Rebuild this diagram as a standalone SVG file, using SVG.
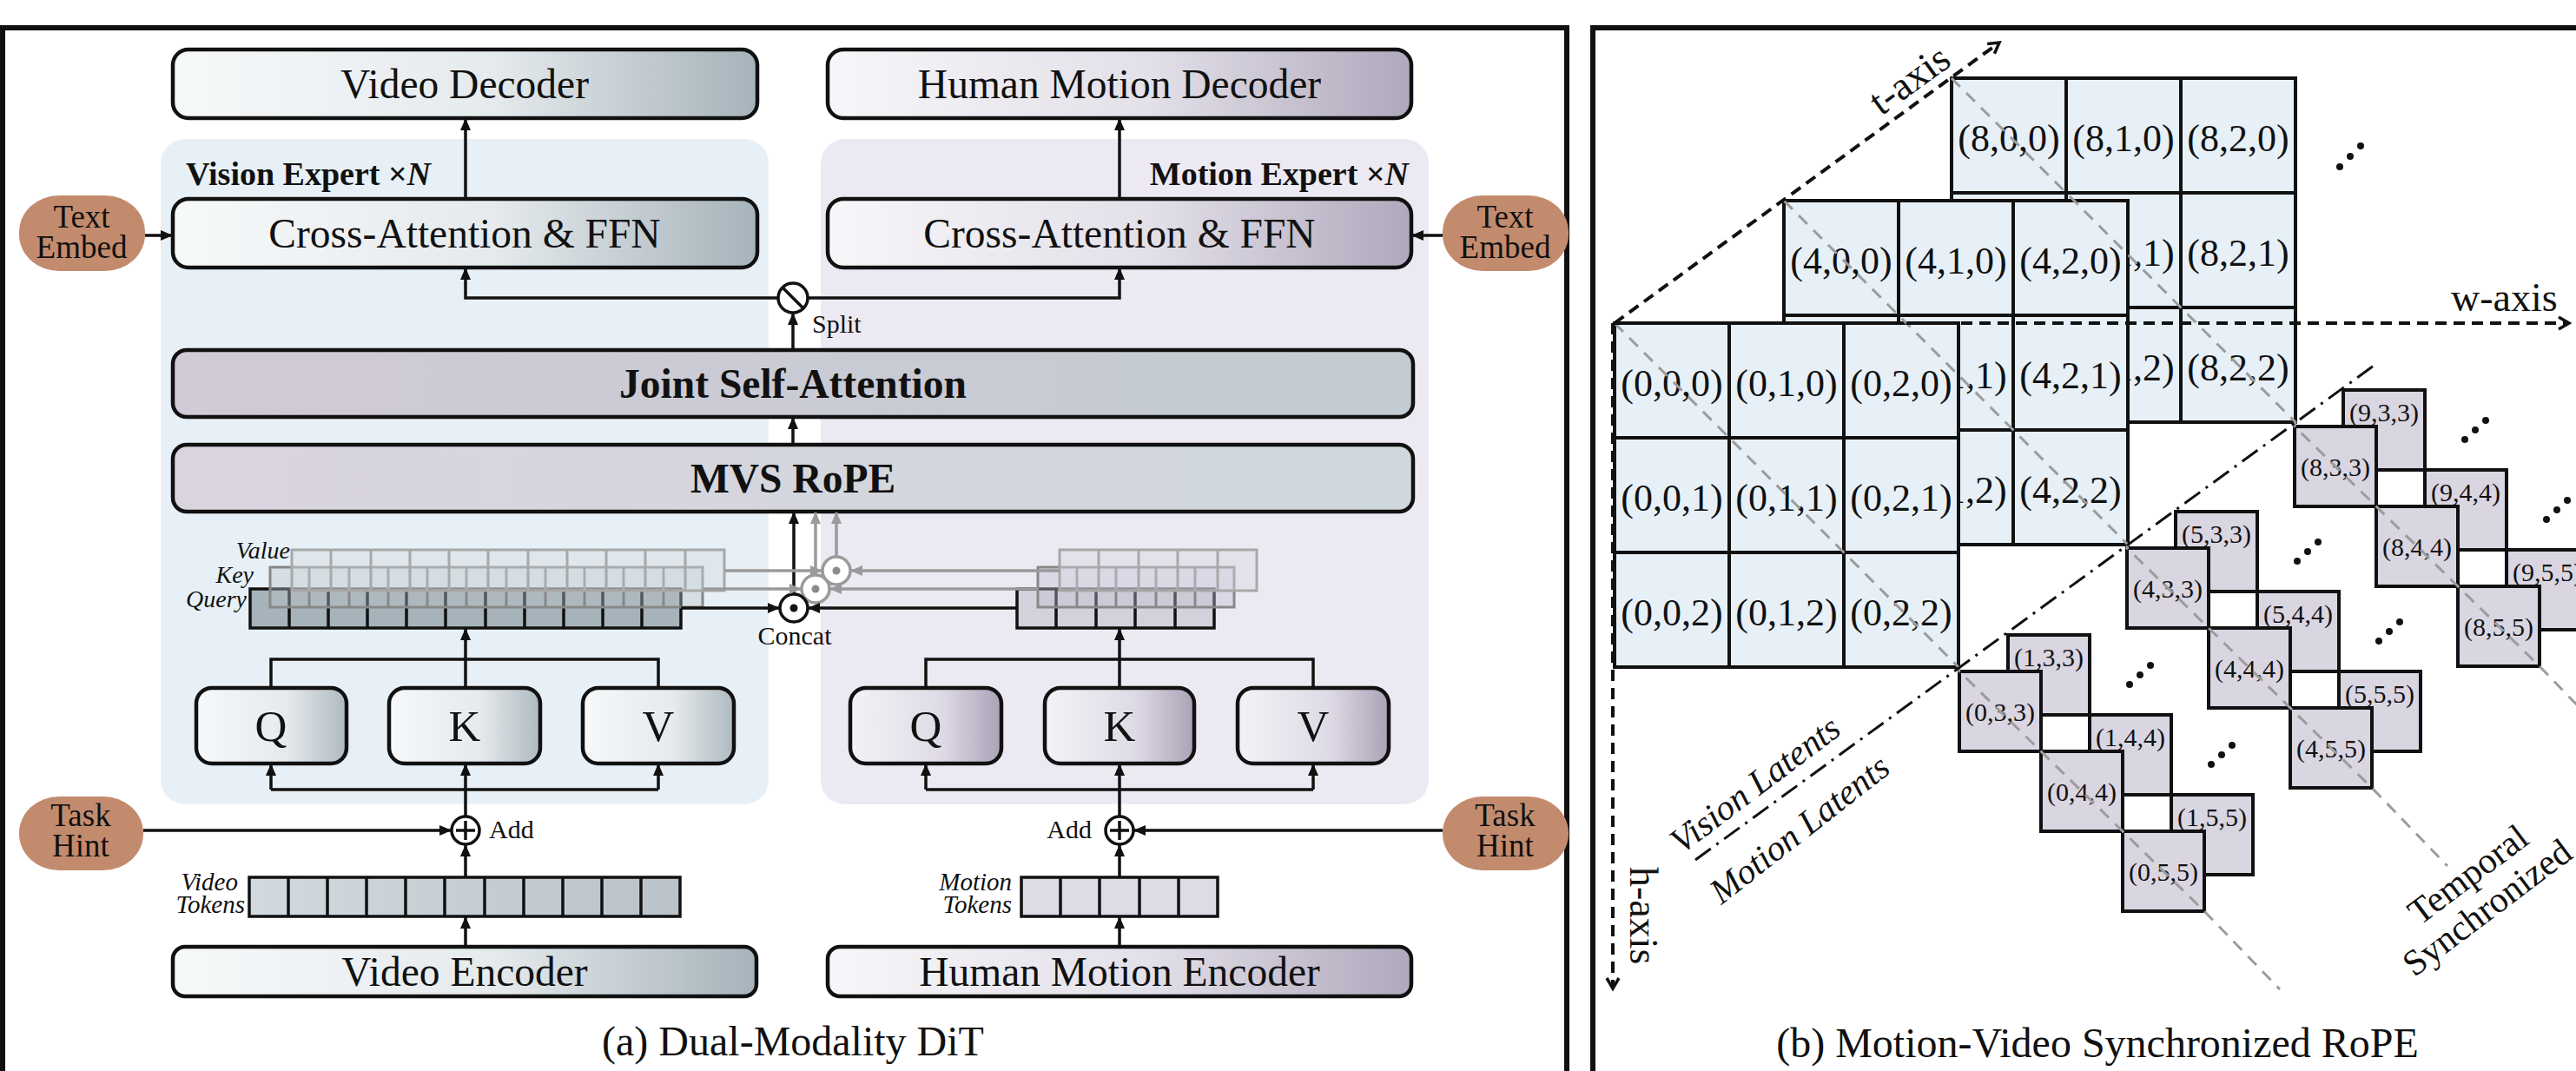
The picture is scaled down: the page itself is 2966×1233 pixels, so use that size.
<svg xmlns="http://www.w3.org/2000/svg" width="2966" height="1233" viewBox="0 0 2966 1233">
<defs>
  <linearGradient id="gV" x1="0" y1="0" x2="1" y2="0">
    <stop offset="0" stop-color="#f7f9fa"/><stop offset="0.55" stop-color="#e5eaed"/><stop offset="1" stop-color="#a6b3ba"/>
  </linearGradient>
  <linearGradient id="gM" x1="0" y1="0" x2="1" y2="0">
    <stop offset="0" stop-color="#f7f6f9"/><stop offset="0.55" stop-color="#e3e0e9"/><stop offset="1" stop-color="#b0a8bc"/>
  </linearGradient>
  <linearGradient id="gVq" x1="0" y1="0" x2="1" y2="0">
    <stop offset="0" stop-color="#f6f8fa"/><stop offset="0.6" stop-color="#e6eaed"/><stop offset="1" stop-color="#aebac0"/>
  </linearGradient>
  <linearGradient id="gMq" x1="0" y1="0" x2="1" y2="0">
    <stop offset="0" stop-color="#f4f2f7"/><stop offset="0.6" stop-color="#dfdbe6"/><stop offset="1" stop-color="#aaa2b6"/>
  </linearGradient>
  <linearGradient id="gJ" x1="0" y1="0" x2="1" y2="0">
    <stop offset="0" stop-color="#d1cad7"/><stop offset="1" stop-color="#c3ccd2"/>
  </linearGradient>
  <linearGradient id="gR" x1="0" y1="0" x2="1" y2="0">
    <stop offset="0" stop-color="#dad4df"/><stop offset="1" stop-color="#cfd8dc"/>
  </linearGradient>
  <linearGradient id="gTok" x1="0" y1="0" x2="1" y2="0">
    <stop offset="0" stop-color="#d3dadf"/><stop offset="1" stop-color="#b9c3c9"/>
  </linearGradient>
  <marker id="ah" markerUnits="userSpaceOnUse" markerWidth="14" markerHeight="12" refX="13" refY="6" orient="auto">
    <path d="M0,0 L14,6 L0,12 z" fill="#111"/>
  </marker>
  <marker id="ahg" markerUnits="userSpaceOnUse" markerWidth="14" markerHeight="12" refX="13" refY="6" orient="auto">
    <path d="M0,0 L14,6 L0,12 z" fill="#9a9a9a"/>
  </marker>
  <marker id="chev" markerUnits="userSpaceOnUse" markerWidth="20" markerHeight="20" refX="15" refY="10" orient="auto">
    <path d="M3,3 L15,10 L3,17" fill="none" stroke="#111" stroke-width="3.5"/>
  </marker>
</defs>
<style>
  text{font-family:"Liberation Serif","Times New Roman",serif;fill:#111}
  .frame{fill:#fff;stroke:#111;stroke-width:6}
  .box{stroke:#111;stroke-width:4.5}
  .lbl{font-size:47.5px;text-anchor:middle}
  .b{font-weight:bold}
  .it{font-style:italic}
  .pill{fill:#c38b6e}
  .pt{font-size:37px;text-anchor:middle}
  .ln{fill:none;stroke:#111;stroke-width:3.5}
  .lg{fill:none;stroke:#9a9a9a;stroke-width:3.5}
  .op{fill:#fff;stroke:#111;stroke-width:3.5}
  .opg{fill:#fff;stroke:#9a9a9a;stroke-width:3.5}
  .sm{font-size:30px}
  .tq{stroke:#111;stroke-width:3.5}
  .tk{fill:#b9c2c8;fill-opacity:0.4;stroke:#888;stroke-width:3}
  .tv{fill:#d5dbdf;fill-opacity:0.45;stroke:#a8a8a8;stroke-width:3}
  .mk{fill:#c4bfcf;fill-opacity:0.4;stroke:#888;stroke-width:3}
  .mv{fill:#dcd8e3;fill-opacity:0.45;stroke:#a8a8a8;stroke-width:3}
  .pc{fill:#e7f0f7;stroke:#111;stroke-width:4}
  .mc{fill:#d9d5e1;stroke:#111;stroke-width:4}
  .pl{font-size:44px;text-anchor:middle}
  .ml{font-size:30px;text-anchor:middle}
  .diag{fill:none;stroke:#9c9c9c;stroke-width:3;stroke-dasharray:14 10}
  .axis{fill:none;stroke:#111;stroke-width:4;stroke-dasharray:13 8}
  .sep{fill:none;stroke:#111;stroke-width:3;stroke-dasharray:22 8 3 8}
  .dot{fill:#111}
  .cap{font-size:48px;text-anchor:middle}
</style>

<rect width="2966" height="1233" fill="#fff"/>

<!-- panel frames -->
<rect class="frame" x="3" y="32" width="1801" height="1240"/>
<rect class="frame" x="1834" y="32" width="1160" height="1240"/>

<!-- ===== (a) Dual-Modality DiT ===== -->
<g id="vision-expert-bg"><rect x="185" y="160" width="700" height="766" rx="28" fill="#e7f0f6"/></g>
<g id="motion-expert-bg"><rect x="945" y="160" width="700" height="766" rx="28" fill="#ece9f3"/></g>

<g id="video-decoder"><rect class="box" x="199" y="57" width="673" height="79" rx="18" fill="url(#gV)"/><text class="lbl" x="535" y="113">Video Decoder</text></g>
<g id="motion-decoder"><rect class="box" x="953" y="57" width="672" height="79" rx="18" fill="url(#gM)"/><text class="lbl" x="1289" y="113">Human Motion Decoder</text></g>

<g id="vision-expert-title"><text class="b" x="214" y="213" font-size="38">Vision Expert ×<tspan class="it">N</tspan></text></g>
<g id="motion-expert-title"><text class="b" x="1622" y="213" font-size="38" text-anchor="end">Motion Expert ×<tspan class="it">N</tspan></text></g>

<g id="vision-cross-attn"><rect class="box" x="199" y="229" width="673" height="79" rx="18" fill="url(#gV)"/><text class="lbl" x="535" y="285">Cross-Attention &amp; FFN</text></g>
<g id="motion-cross-attn"><rect class="box" x="953" y="229" width="672" height="79" rx="18" fill="url(#gM)"/><text class="lbl" x="1289" y="285">Cross-Attention &amp; FFN</text></g>

<g id="text-embed-left"><rect class="pill" x="22" y="225" width="145" height="87" rx="46" ry="42"/><text class="pt" x="94" y="262">Text</text><text class="pt" x="94" y="297">Embed</text></g>
<g id="text-embed-right"><rect class="pill" x="1661" y="225" width="145" height="87" rx="46" ry="42"/><text class="pt" x="1733" y="262">Text</text><text class="pt" x="1733" y="297">Embed</text></g>

<g id="joint-self-attention"><rect class="box" x="199" y="403" width="1428" height="77" rx="16" fill="url(#gJ)"/><text class="lbl b" x="913" y="458">Joint Self-Attention</text></g>
<g id="mvs-rope"><rect class="box" x="199" y="512" width="1428" height="77" rx="16" fill="url(#gR)"/><text class="lbl b" x="913" y="567">MVS RoPE</text></g>

<g id="split-op"><circle class="op" cx="913" cy="343" r="17"/><path class="ln" d="M901,331 L925,355"/><text class="sm" x="935" y="383">Split</text></g>

<!-- vision Q/K/V token stacks -->
<g id="vision-qkv-tokens">
  <rect class="tq" x="288" y="678" width="496" height="45" fill="#a7b3ba"/>
  <path class="tq" d="M333,678V723M378,678V723M423,678V723M468,678V723M513,678V723M559,678V723M604,678V723M649,678V723M694,678V723M739,678V723"/>
  <rect class="tk" x="311" y="653" width="498" height="46"/>
  <path class="tk" d="M356,653V699M402,653V699M447,653V699M492,653V699M537,653V699M583,653V699M628,653V699M673,653V699M718,653V699M764,653V699"/>
  <rect class="tv" x="336" y="633" width="498" height="47"/>
  <path class="tv" d="M381,633V680M427,633V680M472,633V680M517,633V680M562,633V680M608,633V680M653,633V680M698,633V680M743,633V680M789,633V680"/>
  <text class="it" x="334" y="643" font-size="28" text-anchor="end">Value</text>
  <text class="it" x="292" y="671" font-size="28" text-anchor="end">Key</text>
  <text class="it" x="284" y="699" font-size="28" text-anchor="end">Query</text>
</g>

<!-- motion Q/K/V token stacks -->
<g id="motion-qkv-tokens">
  <rect class="tq" x="1171" y="678" width="227" height="45" fill="#d4d0dc"/>
  <path class="tq" d="M1216,678V723M1262,678V723M1307,678V723M1353,678V723"/>
  <rect class="mk" x="1195" y="653" width="226" height="46"/>
  <path class="mk" d="M1240,653V699M1285,653V699M1331,653V699M1376,653V699"/>
  <rect class="mv" x="1220" y="633" width="227" height="47"/>
  <path class="mv" d="M1265,633V680M1311,633V680M1356,633V680M1402,633V680"/>
</g>

<g id="concat-op">
  <circle class="opg" cx="963" cy="657" r="16"/><circle cx="963" cy="657" r="4.5" fill="#8a8a8a"/>
  <circle class="opg" cx="939" cy="678" r="16"/><circle cx="939" cy="678" r="4.5" fill="#8a8a8a"/>
  <circle class="op" cx="914" cy="700" r="16"/><circle cx="914" cy="700" r="4.5" fill="#111"/>
  <text class="sm" x="915" y="742" text-anchor="middle">Concat</text>
</g>

<g id="vision-q"><rect class="box" x="226" y="792" width="173" height="87" rx="18" fill="url(#gVq)"/><text x="312" y="853" font-size="51" text-anchor="middle">Q</text></g>
<g id="vision-k"><rect class="box" x="448" y="792" width="174" height="87" rx="18" fill="url(#gVq)"/><text x="535" y="853" font-size="51" text-anchor="middle">K</text></g>
<g id="vision-v"><rect class="box" x="671" y="792" width="174" height="87" rx="18" fill="url(#gVq)"/><text x="758" y="853" font-size="51" text-anchor="middle">V</text></g>
<g id="motion-q"><rect class="box" x="979" y="792" width="174" height="87" rx="18" fill="url(#gMq)"/><text x="1066" y="853" font-size="51" text-anchor="middle">Q</text></g>
<g id="motion-k"><rect class="box" x="1203" y="792" width="172" height="87" rx="18" fill="url(#gMq)"/><text x="1289" y="853" font-size="51" text-anchor="middle">K</text></g>
<g id="motion-v"><rect class="box" x="1425" y="792" width="174" height="87" rx="18" fill="url(#gMq)"/><text x="1512" y="853" font-size="51" text-anchor="middle">V</text></g>

<g id="add-left"><circle class="op" cx="536" cy="956" r="16"/><path class="ln" d="M536,945V967M525,956H547" stroke-width="2.5"/><text class="sm" x="563" y="965">Add</text></g>
<g id="add-right"><circle class="op" cx="1289" cy="956" r="16"/><path class="ln" d="M1289,945V967M1278,956H1300" stroke-width="2.5"/><text class="sm" x="1257" y="965" text-anchor="end">Add</text></g>

<g id="task-hint-left"><rect class="pill" x="22" y="917" width="143" height="85" rx="46" ry="42"/><text class="pt" x="93" y="951">Task</text><text class="pt" x="93" y="986">Hint</text></g>
<g id="task-hint-right"><rect class="pill" x="1661" y="917" width="145" height="85" rx="46" ry="42"/><text class="pt" x="1733" y="951">Task</text><text class="pt" x="1733" y="986">Hint</text></g>

<g id="video-tokens">
  <rect class="tq" x="287" y="1010" width="496" height="45" fill="url(#gTok)"/>
  <path class="tq" d="M332,1010V1055M377,1010V1055M422,1010V1055M467,1010V1055M512,1010V1055M558,1010V1055M603,1010V1055M648,1010V1055M693,1010V1055M738,1010V1055"/>
  <text class="it" x="274" y="1025" font-size="29" text-anchor="end">Video</text>
  <text class="it" x="282" y="1051" font-size="29" text-anchor="end">Tokens</text>
</g>
<g id="motion-tokens">
  <rect class="tq" x="1176" y="1010" width="226" height="45" fill="#dedbe6"/>
  <path class="tq" d="M1221,1010V1055M1266,1010V1055M1312,1010V1055M1357,1010V1055"/>
  <text class="it" x="1165" y="1025" font-size="29" text-anchor="end">Motion</text>
  <text class="it" x="1165" y="1051" font-size="29" text-anchor="end">Tokens</text>
</g>

<g id="video-encoder"><rect class="box" x="199" y="1090" width="672" height="57" rx="14" fill="url(#gV)"/><text class="lbl" x="535" y="1135">Video Encoder</text></g>
<g id="motion-encoder"><rect class="box" x="953" y="1090" width="672" height="57" rx="14" fill="url(#gM)"/><text class="lbl" x="1289" y="1135">Human Motion Encoder</text></g>

<g id="connectors">
  <path class="ln" d="M536,229V137" marker-end="url(#ah)"/>
  <path class="ln" d="M1289,229V137" marker-end="url(#ah)"/>
  <path class="ln" d="M167,271H198" marker-end="url(#ah)"/>
  <path class="ln" d="M1661,271H1626" marker-end="url(#ah)"/>
  <path class="ln" d="M896,343H536V309" marker-end="url(#ah)"/>
  <path class="ln" d="M930,343H1289V309" marker-end="url(#ah)"/>
  <path class="ln" d="M913,403V361" marker-end="url(#ah)"/>
  <path class="ln" d="M913,512V481" marker-end="url(#ah)"/>
  <path class="lg" d="M963,641V590" marker-end="url(#ahg)"/>
  <path class="lg" d="M939,662V590" marker-end="url(#ahg)"/>
  <path class="ln" d="M914,684V590" marker-end="url(#ah)"/>
  <path class="lg" d="M834,657H946" marker-end="url(#ahg)"/>
  <path class="lg" d="M809,678H922" marker-end="url(#ahg)"/>
  <path class="ln" d="M784,700H897" marker-end="url(#ah)"/>
  <path class="lg" d="M1220,657H980" marker-end="url(#ahg)"/>
  <path class="lg" d="M1195,678H956" marker-end="url(#ahg)"/>
  <path class="ln" d="M1171,700H931" marker-end="url(#ah)"/>
  <!-- vision projections -->
  <path class="ln" d="M312,792V759H758V792"/>
  <path class="ln" d="M536,792V724" marker-end="url(#ah)"/>
  <path class="ln" d="M312,909H758"/>
  <path class="ln" d="M312,909V880" marker-end="url(#ah)"/>
  <path class="ln" d="M536,940V880" marker-end="url(#ah)"/>
  <path class="ln" d="M758,909V880" marker-end="url(#ah)"/>
  <path class="ln" d="M165,956H519" marker-end="url(#ah)"/>
  <path class="ln" d="M536,1010V973" marker-end="url(#ah)"/>
  <path class="ln" d="M536,1090V1056" marker-end="url(#ah)"/>
  <!-- motion projections -->
  <path class="ln" d="M1066,792V759H1512V792"/>
  <path class="ln" d="M1289,792V724" marker-end="url(#ah)"/>
  <path class="ln" d="M1066,909H1512"/>
  <path class="ln" d="M1066,909V880" marker-end="url(#ah)"/>
  <path class="ln" d="M1289,940V880" marker-end="url(#ah)"/>
  <path class="ln" d="M1512,909V880" marker-end="url(#ah)"/>
  <path class="ln" d="M1661,956H1306" marker-end="url(#ah)"/>
  <path class="ln" d="M1289,1010V973" marker-end="url(#ah)"/>
  <path class="ln" d="M1289,1090V1056" marker-end="url(#ah)"/>
</g>

<text class="cap" x="913" y="1215">(a) Dual-Modality DiT</text>

<!-- ===== (b) Motion-Video Synchronized RoPE ===== -->
<g id="plane-t8">
  <rect class="pc" x="2247" y="90" width="132" height="132"/><rect class="pc" x="2379" y="90" width="132" height="132"/><rect class="pc" x="2511" y="90" width="132" height="132"/>
  <rect class="pc" x="2247" y="222" width="132" height="132"/><rect class="pc" x="2379" y="222" width="132" height="132"/><rect class="pc" x="2511" y="222" width="132" height="132"/>
  <rect class="pc" x="2247" y="354" width="132" height="132"/><rect class="pc" x="2379" y="354" width="132" height="132"/><rect class="pc" x="2511" y="354" width="132" height="132"/>
  <text class="pl" x="2313" y="174">(8,0,0)</text><text class="pl" x="2445" y="174">(8,1,0)</text><text class="pl" x="2577" y="174">(8,2,0)</text>
  <text class="pl" x="2313" y="306">(8,0,1)</text><text class="pl" x="2445" y="306">(8,1,1)</text><text class="pl" x="2577" y="306">(8,2,1)</text>
  <text class="pl" x="2313" y="438">(8,0,2)</text><text class="pl" x="2445" y="438">(8,1,2)</text><text class="pl" x="2577" y="438">(8,2,2)</text>
</g>
<g id="plane-t4">
  <rect class="pc" x="2054" y="231" width="132" height="132"/><rect class="pc" x="2186" y="231" width="132" height="132"/><rect class="pc" x="2318" y="231" width="132" height="132"/>
  <rect class="pc" x="2054" y="363" width="132" height="132"/><rect class="pc" x="2186" y="363" width="132" height="132"/><rect class="pc" x="2318" y="363" width="132" height="132"/>
  <rect class="pc" x="2054" y="495" width="132" height="132"/><rect class="pc" x="2186" y="495" width="132" height="132"/><rect class="pc" x="2318" y="495" width="132" height="132"/>
  <text class="pl" x="2120" y="315">(4,0,0)</text><text class="pl" x="2252" y="315">(4,1,0)</text><text class="pl" x="2384" y="315">(4,2,0)</text>
  <text class="pl" x="2120" y="447">(4,0,1)</text><text class="pl" x="2252" y="447">(4,1,1)</text><text class="pl" x="2384" y="447">(4,2,1)</text>
  <text class="pl" x="2120" y="579">(4,0,2)</text><text class="pl" x="2252" y="579">(4,1,2)</text><text class="pl" x="2384" y="579">(4,2,2)</text>
</g>
<g id="plane-t0">
  <rect class="pc" x="1859" y="372" width="132" height="132"/><rect class="pc" x="1991" y="372" width="132" height="132"/><rect class="pc" x="2123" y="372" width="132" height="132"/>
  <rect class="pc" x="1859" y="504" width="132" height="132"/><rect class="pc" x="1991" y="504" width="132" height="132"/><rect class="pc" x="2123" y="504" width="132" height="132"/>
  <rect class="pc" x="1859" y="636" width="132" height="132"/><rect class="pc" x="1991" y="636" width="132" height="132"/><rect class="pc" x="2123" y="636" width="132" height="132"/>
  <text class="pl" x="1925" y="456">(0,0,0)</text><text class="pl" x="2057" y="456">(0,1,0)</text><text class="pl" x="2189" y="456">(0,2,0)</text>
  <text class="pl" x="1925" y="588">(0,0,1)</text><text class="pl" x="2057" y="588">(0,1,1)</text><text class="pl" x="2189" y="588">(0,2,1)</text>
  <text class="pl" x="1925" y="720">(0,0,2)</text><text class="pl" x="2057" y="720">(0,1,2)</text><text class="pl" x="2189" y="720">(0,2,2)</text>
</g>

<!-- motion latents: odd frames behind, even frames in front -->
<g id="motion-cells-back">
  <rect class="mc" x="2312" y="731" width="94" height="92"/><text class="ml" x="2359" y="767">(1,3,3)</text>
  <rect class="mc" x="2406" y="823" width="94" height="92"/><text class="ml" x="2453" y="859">(1,4,4)</text>
  <rect class="mc" x="2500" y="915" width="94" height="92"/><text class="ml" x="2547" y="951">(1,5,5)</text>
  <rect class="mc" x="2505" y="589" width="94" height="92"/><text class="ml" x="2552" y="625">(5,3,3)</text>
  <rect class="mc" x="2599" y="681" width="94" height="92"/><text class="ml" x="2646" y="717">(5,4,4)</text>
  <rect class="mc" x="2693" y="773" width="94" height="92"/><text class="ml" x="2740" y="809">(5,5,5)</text>
  <rect class="mc" x="2698" y="449" width="94" height="92"/><text class="ml" x="2745" y="485">(9,3,3)</text>
  <rect class="mc" x="2792" y="541" width="94" height="92"/><text class="ml" x="2839" y="577">(9,4,4)</text>
  <rect class="mc" x="2886" y="633" width="94" height="92"/><text class="ml" x="2933" y="669">(9,5,5)</text>
</g>
<g id="motion-cells-front">
  <rect class="mc" x="2256" y="773" width="94" height="92"/><text class="ml" x="2303" y="830">(0,3,3)</text>
  <rect class="mc" x="2350" y="865" width="94" height="92"/><text class="ml" x="2397" y="922">(0,4,4)</text>
  <rect class="mc" x="2444" y="957" width="94" height="92"/><text class="ml" x="2491" y="1014">(0,5,5)</text>
  <rect class="mc" x="2449" y="631" width="94" height="92"/><text class="ml" x="2496" y="688">(4,3,3)</text>
  <rect class="mc" x="2543" y="723" width="94" height="92"/><text class="ml" x="2590" y="780">(4,4,4)</text>
  <rect class="mc" x="2637" y="815" width="94" height="92"/><text class="ml" x="2684" y="872">(4,5,5)</text>
  <rect class="mc" x="2642" y="491" width="94" height="92"/><text class="ml" x="2689" y="548">(8,3,3)</text>
  <rect class="mc" x="2736" y="583" width="94" height="92"/><text class="ml" x="2783" y="640">(8,4,4)</text>
  <rect class="mc" x="2830" y="675" width="94" height="92"/><text class="ml" x="2877" y="732">(8,5,5)</text>
</g>

<g id="ellipsis-dots">
  <circle class="dot" cx="2694" cy="192" r="4"/><circle class="dot" cx="2706" cy="180" r="4"/><circle class="dot" cx="2718" cy="168" r="4"/>
  <circle class="dot" cx="2452" cy="788" r="4"/><circle class="dot" cx="2464" cy="777" r="4"/><circle class="dot" cx="2476" cy="766" r="4"/>
  <circle class="dot" cx="2546" cy="880" r="4"/><circle class="dot" cx="2558" cy="869" r="4"/><circle class="dot" cx="2570" cy="858" r="4"/>
  <circle class="dot" cx="2645" cy="646" r="4"/><circle class="dot" cx="2657" cy="635" r="4"/><circle class="dot" cx="2669" cy="624" r="4"/>
  <circle class="dot" cx="2739" cy="738" r="4"/><circle class="dot" cx="2751" cy="727" r="4"/><circle class="dot" cx="2763" cy="716" r="4"/>
  <circle class="dot" cx="2838" cy="506" r="4"/><circle class="dot" cx="2850" cy="495" r="4"/><circle class="dot" cx="2862" cy="484" r="4"/>
  <circle class="dot" cx="2932" cy="598" r="4"/><circle class="dot" cx="2944" cy="587" r="4"/><circle class="dot" cx="2956" cy="576" r="4"/>
</g>

<g id="sync-diagonals">
  <path class="diag" d="M1859,372 L2255,768 L2256,773 L2538,1049 L2625,1139"/>
  <path class="diag" d="M2054,231 L2450,627 L2449,631 L2731,907 L2818,997"/>
  <path class="diag" d="M2247,90 L2643,486 L2642,491 L2924,767 L3010,856"/>
</g>

<g id="axes">
  <path class="axis" d="M1859,372 H2958" marker-end="url(#chev)"/>
  <path class="axis" d="M1859,372 L2302,49" marker-end="url(#chev)"/>
  <path class="axis" d="M1857,372 V1138" marker-end="url(#chev)"/>
  <text x="2822" y="358" font-size="46">w-axis</text>
  <text transform="translate(2166,134) rotate(-36)" font-size="46">t-axis</text>
  <text transform="translate(1877,998) rotate(90)" font-size="46">h-axis</text>
</g>

<g id="latent-separator">
  <path class="sep" d="M1952,990 L2733,421"/>
  <text class="it" transform="translate(1936,984) rotate(-37)" font-size="41">Vision Latents</text>
  <text class="it" transform="translate(1982,1042) rotate(-38)" font-size="41">Motion Latents</text>
</g>

<g id="temporal-label">
  <text transform="translate(2850,1018) rotate(-37)" font-size="42" text-anchor="middle">Temporal</text>
  <text transform="translate(2872,1056) rotate(-37)" font-size="42" text-anchor="middle">Synchronized</text>
</g>

<text class="cap" x="2415" y="1217">(b) Motion-Video Synchronized RoPE</text>
</svg>
